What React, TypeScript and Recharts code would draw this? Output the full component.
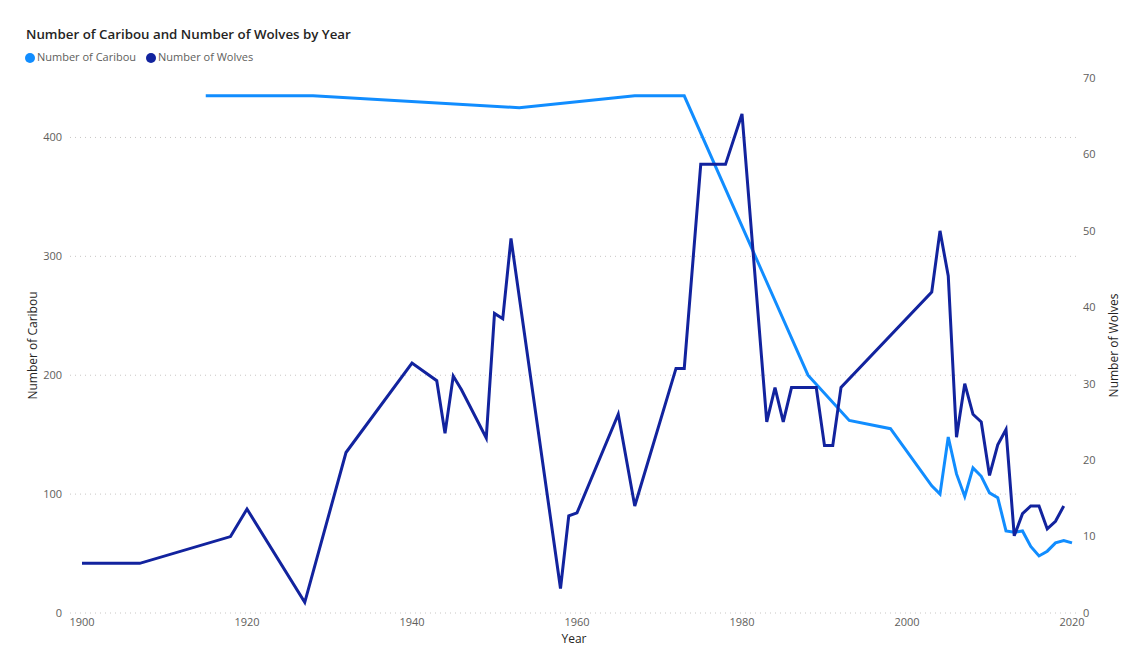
import React from "react";
import {
  LineChart,
  Line,
  XAxis,
  YAxis,
  CartesianGrid,
  Legend,
} from "recharts";

const caribouYears = [
  1915, 1928, 1953, 1967, 1973, 1988, 1993, 1998, 2003, 2004, 2005, 2006, 2007,
  2008, 2009, 2010, 2011, 2012, 2013, 2014, 2015, 2016, 2017, 2018, 2019, 2020,
];
const caribouCounts = [
  435, 435, 425, 435, 435, 200, 162, 155, 107, 100, 148, 117, 98, 122, 115, 101,
  97, 69, 68, 69, 56, 48, 52, 59, 61, 59,
];

const wolfYears = [
  1900, 1907, 1918, 1920, 1927, 1932, 1940, 1943, 1944, 1945, 1946, 1949, 1950,
  1951, 1952, 1958, 1959, 1960, 1965, 1967, 1972, 1973, 1975, 1978, 1980, 1983,
  1984, 1985, 1986, 1989, 1990, 1991, 1992, 2003, 2004, 2005, 2006, 2007, 2008,
  2009, 2010, 2011, 2012, 2013, 2014, 2015, 2016, 2017, 2018, 2019,
];
const wolfCounts = [
  6.5, 6.5, 10, 13.6, 1.4, 21, 32.7, 30.4, 23.5, 31, 29.2, 22.9, 39.2, 38.5, 49,
  3.2, 12.7, 13.1, 26, 14, 32, 32, 58.7, 58.7, 65.3, 25, 29.5, 25, 29.5, 29.5,
  21.9, 21.9, 29.5, 42, 50, 44.1, 23, 30, 26, 25, 18, 22, 24, 10.1, 13, 14, 14,
  11, 12, 14,
];

const yearTicks = [1900, 1920, 1940, 1960, 1980, 2000, 2020];
const caribouTicks = [0, 100, 200, 300, 400];
const wolfTicks = [0, 10, 20, 30, 40, 50, 60, 70];

const CARIBOU = "#118DFF";
const WOLVES = "#12239E";
const FONT = "'Segoe UI', 'Open Sans', 'Noto Sans', sans-serif";

// merge both series into one table keyed by year
const allYears = Array.from(new Set([...caribouYears, ...wolfYears])).sort(
  (a, b) => a - b
);
const data = allYears.map((year) => {
  const ci = caribouYears.indexOf(year);
  const wi = wolfYears.indexOf(year);
  return {
    year,
    caribou: ci >= 0 ? caribouCounts[ci] : undefined,
    wolves: wi >= 0 ? wolfCounts[wi] : undefined,
  };
});

const tickStyle = { fontSize: 11, fill: "#605E5C", fontFamily: FONT };
const titleStyle = { fontSize: 12, fill: "#252423", fontFamily: FONT };

export default function App() {
  return (
    <div
      style={{
        position: "absolute",
        left: 0,
        top: 0,
        width: 1138,
        height: 669,
        background: "#ffffff",
        fontFamily: FONT,
      }}
    >
      <div
        style={{
          position: "absolute",
          left: 26,
          top: 25,
          fontSize: 13.3,
          fontWeight: 600,
          color: "#252423",
        }}
      >
        Number of Caribou and Number of Wolves by Year
      </div>
      <LineChart
        width={1138}
        height={669}
        data={data}
        margin={{ top: 64, right: 0, bottom: 16, left: 20 }}
      >
        <CartesianGrid
          vertical={false}
          stroke="#C8C6C4"
          strokeDasharray="1 4"
          yAxisId="left"
          syncWithTicks
        />
        <XAxis
          dataKey="year"
          type="number"
          domain={[1900, 2020]}
          ticks={yearTicks}
          padding={{ left: 12, right: 6 }}
          axisLine={false}
          tickLine={false}
          tickSize={0}
          tickMargin={5}
          tick={tickStyle}
          height={40}
          label={{
            value: "Year",
            position: "insideBottom",
            offset: 10,
            style: titleStyle,
          }}
        />
        <YAxis
          yAxisId="left"
          domain={[0, 450]}
          ticks={caribouTicks}
          axisLine={false}
          tickLine={false}
          tickSize={0}
          tickMargin={8}
          tick={tickStyle}
          width={50}
          label={{
            value: "Number of Caribou",
            angle: -90,
            position: "center",
            dx: -12,
            style: titleStyle,
          }}
        />
        <YAxis
          yAxisId="right"
          orientation="right"
          domain={[0, 70]}
          ticks={wolfTicks}
          axisLine={false}
          tickLine={false}
          tickSize={0}
          tickMargin={5}
          tick={tickStyle}
          width={60}
          label={{
            value: "Number of Wolves",
            angle: -90,
            position: "center",
            dx: 6,
            style: titleStyle,
          }}
        />
        <Legend
          verticalAlign="top"
          align="left"
          iconType="circle"
          iconSize={10}
          wrapperStyle={{
            position: "absolute",
            top: 50,
            left: 25,
            width: 400,
            fontSize: 11,
            lineHeight: "14px",
            whiteSpace: "nowrap",
          }}
          formatter={(value: string) => (
            <span style={{ color: "#605E5C", marginLeft: -2 }}>{value}</span>
          )}
        />
        <Line
          yAxisId="left"
          dataKey="caribou"
          name="Number of Caribou"
          type="linear"
          stroke={CARIBOU}
          strokeWidth={3}
          dot={false}
          connectNulls
          isAnimationActive={false}
        />
        <Line
          yAxisId="right"
          dataKey="wolves"
          name="Number of Wolves"
          type="linear"
          stroke={WOLVES}
          strokeWidth={3}
          dot={false}
          connectNulls
          isAnimationActive={false}
        />
      </LineChart>
    </div>
  );
}
